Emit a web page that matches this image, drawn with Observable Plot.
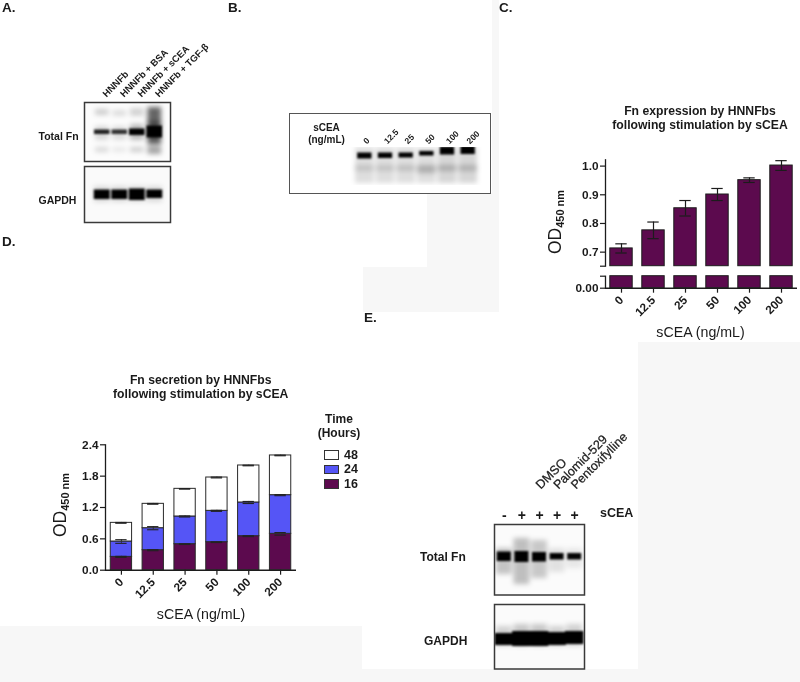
<!DOCTYPE html>
<html><head><meta charset="utf-8">
<style>
html,body{margin:0;padding:0;background:#fff}
#fig{position:relative;width:800px;height:682px;overflow:hidden;background:#fff;font-family:"Liberation Sans",Arial,sans-serif;color:#1a1a1a;filter:blur(.45px)}
.bg{position:absolute;background:#f7f7f7}
.lbl{position:absolute;white-space:nowrap;line-height:1}
.pl{position:absolute}
.pl svg{display:block;background:transparent;max-width:none;overflow:visible;font-family:"Liberation Sans",Arial,sans-serif}
</style>
<script src="https://cdn.jsdelivr.net/npm/d3@7"></script>
<script src="https://cdn.jsdelivr.net/npm/@observablehq/plot@0.6"></script>
</head><body><div id="fig"></div>
<script>
// ---- data ----
const doses = ["0","12.5","25","50","100","200"];
// Panel C
const fnExpression = [0.713,0.776,0.853,0.901,0.951,1.002];
const fnExpressionErr = [0.016,0.029,0.027,0.021,0.008,0.017];
// Panel D (stack increments)
const secretion16 = [0.255,0.383,0.498,0.536,0.651,0.696];
const secretion24 = [0.294,0.421,0.530,0.600,0.645,0.740];
const secretion48 = [0.357,0.466,0.529,0.638,0.708,0.760];
const err16 = [0.010,0.010,0.006,0.006,0.008,0.025];
const err24 = [0.035,0.030,0.010,0.010,0.020,0.010];
const err48 = [0.008,0.008,0.006,0.008,0.006,0.006];
const timeLevels = ["48","24","16"];
const timeColors = ["#ffffff","#5555f6","#5c0a4e"];
// Panel A gel
const laneA = ["HNNFb","HNNFb + BSA","HNNFb + sCEA","HNNFb + TGF-β"];
const fnASmear = [[0,7,13,.18],[1,8,14,.12],[2,6,14,.16],[3,5,22,.6],[0,24,38,.14],[1,24,38,.12],[2,22,38,.26],[3,20,42,.65],[0,45,50,.14],[1,45,50,.08],[2,45,50,.18],[3,44,52,.35]];
const fnACore = [[0,27.5,32,.85],[1,27.5,32,.78],[2,26.5,33,1],[3,23.5,35.5,1]];
const gapdhASmear = [[0,20,36,.12],[1,20,36,.12],[2,20,36,.12],[3,20,36,.12]];
const gapdhACore = [[0,23.5,33,1],[1,23.5,33,1],[2,22.5,34,1],[3,23.5,32,1]];
// Panel B gel
const laneB = ["0","12.5","25","50","100","200"];
const fnBSmear = [[0,0,36,.13],[1,0,36,.13],[2,0,36,.13],[3,0,36,.13],[4,0,36,.16],[5,0,36,.16],[0,18,24,.12],[1,18,24,.12],[2,18,24,.14],[3,18,26,.22],[4,18,24,.2],[5,18,24,.18]];
const fnBCore = [[0,5.5,11.5,1],[1,5.5,11,1],[2,5.5,10.5,1],[3,4,8.5,1],[4,-.5,7.5,1],[5,-1,7,1]];
// Panel E gels
const laneE = [0,1,2,3,4];
const signE = ["-","+","+","+","+"];
const drugsE = ["DMSO","Palomid-529","Pentoxifylline"];
const drugLanes = [2,3,4];
const fnESmear = [[0,24,50,.22],[1,14,60,.24],[2,16,54,.2],[3,24,48,.1],[4,24,44,.08]];
const fnECore = [[0,27.5,37,1],[1,27,38,1],[2,28,37.5,1],[3,29,35.5,1],[4,29,35.5,.98]];
const gapdhESmear = [[0,22,42,.16],[1,20,42,.2],[2,20,42,.2],[3,22,42,.16],[4,20,42,.16]];
const gapdhECore = [[0,29,41,1],[1,27,42,1],[2,27,42,1],[3,28,41,1],[4,27,40,1]];

// ---- helpers ----
const fig = document.getElementById("fig");
function bg(x,y,w,h){const d=document.createElement("div");d.className="bg";d.style.cssText=`left:${x}px;top:${y}px;width:${w}px;height:${h}px`;fig.append(d);}
function label(html,x,y,size,weight="bold",rot=0,anchor="-50%"){const d=document.createElement("div");d.className="lbl";d.innerHTML=html;d.style.cssText=`left:${x}px;top:${y}px;font-size:${size}px;font-weight:${weight};transform:translate(${anchor},-50%) rotate(${rot}deg);`;fig.append(d);return d;}
function place(el,x,y){const d=document.createElement("div");d.className="pl";d.style.left=x+"px";d.style.top=y+"px";d.append(el);fig.append(d);}
const INK="#1c1c1c";
const base={style:{background:"transparent",fontWeight:"bold"}};

[[491.5,0,7,312],[427,193,71,119],[363,267,64,45],[0,626,362,56],[0,669,800,13],[638,342,162,340]].forEach(a=>bg(...a));

function blot(x,y,w,h,o){
  const mt=o.marginTop||0;
  const row=(r)=>({lane:o.lanes[r[0]],from:r[1],to:r[2],ink:r[3]});
  const p=Plot.plot({...base,width:w,height:h+mt,marginLeft:0,marginRight:0,marginBottom:0,marginTop:mt,
    x:{type:"band",domain:o.lanes,range:o.xr,padding:0,round:false,axis:null},
    y:{domain:[0,h],range:[mt,mt+h],axis:null},
    marks:[
      Plot.frame({fill:o.paper||"#fbfbfb",stroke:"none"}),
      Plot.barY(o.smears.map(row),{x:"lane",y1:"from",y2:"to",fill:"#000",fillOpacity:"ink",clip:true,insetLeft:o.si||1,insetRight:o.si||1}),
      Plot.barY(o.cores.map(row),{x:"lane",y1:"from",y2:"to",fill:"#000",fillOpacity:"ink",clip:true,insetLeft:o.ci||1,insetRight:o.ci||1}),
      ...(o.frame===false?[]:[Plot.frame({stroke:"#3a3a3a",strokeWidth:1.5})]),
      ...(o.marks||[])
    ]});
  const groups=p.querySelectorAll('g[aria-label="bar"]');
  if(groups[0]) groups[0].style.filter=`blur(${o.sb||2.6}px)`;
  if(groups[1]) groups[1].style.filter=`blur(${o.cb||.9}px)`;
  place(p,x,y-mt);
}

// ---- Panel A ----
label("A.",2,8,13.5,"bold",0,"0");
blot(84,102,86,59,{lanes:laneA,xr:[9,79],smears:fnASmear,cores:fnACore,marginTop:60,ci:1,si:2,paper:"#fcfcfc",
  marks:[Plot.axisX({anchor:"top",tickRotate:-45,tickSize:0,tickPadding:7,dx:2,fontSize:9.5,label:null})]});
blot(84,166,86,56,{lanes:laneA,xr:[9,79],smears:gapdhASmear,cores:gapdhACore,ci:.8,si:0,paper:"#fafafa"});
label("Total Fn",38.5,136,10.5,"bold",0,"0");
label("GAPDH",38.5,200,10.5,"bold",0,"0");

// ---- Panel B ----
label("B.",228,8,13.5,"bold",0,"0");
{const d=document.createElement("div");d.style.cssText="position:absolute;left:288.5px;top:113px;width:200px;height:79px;border:1.3px solid #555;background:#fff;";fig.append(d);}
label("sCEA",326.5,128,10);
label("(ng/mL)",326.5,140,10);
blot(348,147,134,38,{lanes:laneB,xr:[6,130],smears:fnBSmear,cores:fnBCore,marginTop:24,ci:3.2,si:0,paper:"none",frame:false,
  marks:[Plot.axisX({anchor:"top",tickRotate:-45,tickSize:0,tickPadding:5,fontSize:8.5,label:null})]});

// ---- Panel C ----
label("C.",499,8,13.5,"bold",0,"0");
label("Fn expression by HNNFbs",700,110.7,12.2);
label("following stimulation by sCEA",700,125,12.2);
const cRows=doses.map((dose,i)=>({dose,value:fnExpression[i],lo:fnExpression[i]-fnExpressionErr[i],hi:fnExpression[i]+fnExpressionErr[i]}));
const cBreak=0.651;
const xC={type:"band",domain:doses,paddingInner:.3,paddingOuter:.15,round:false,label:null};
const upper=Plot.plot({...base,width:250,height:119,marginLeft:55,marginRight:3,marginTop:9.3,marginBottom:3.3,
  x:{...xC,axis:null},y:{domain:[cBreak,1.022],label:null,axis:null},
  marks:[
    Plot.barY(cRows,{x:"dose",y1:()=>cBreak,y2:"value",fill:timeColors[2],stroke:INK,strokeWidth:1}),
    Plot.ruleX(cRows,{x:"dose",y1:"lo",y2:"hi",stroke:INK,strokeWidth:1.2}),
    Plot.tickY(cRows,{x:"dose",y:"hi",stroke:INK,strokeWidth:1.2,insetLeft:5.5,insetRight:5.5}),
    Plot.tickY(cRows,{x:"dose",y:"lo",stroke:INK,strokeWidth:1.2,insetLeft:5.5,insetRight:5.5}),
    Plot.axisY({ticks:[.7,.8,.9,1],tickFormat:".1f",fontSize:11.8,tickSize:5,tickPadding:2,label:null,stroke:INK,strokeWidth:1.2}),
    Plot.axisY({ticks:[cBreak],tickFormat:()=>"",tickSize:5,label:null,stroke:INK,strokeWidth:1.2}),
    Plot.frame({anchor:"left",stroke:INK,strokeWidth:1.3})
  ]});
place(upper,550,150);
const lower=Plot.plot({...base,width:250,height:70,marginLeft:55,marginRight:3,marginTop:5.7,marginBottom:52.3,
  x:xC,y:{domain:[0,.04],label:null,axis:null},
  marks:[
    Plot.barY(cRows,{x:"dose",y1:()=>0,y2:()=>.04,fill:timeColors[2],stroke:INK,strokeWidth:1}),
    Plot.axisY({ticks:[0],tickFormat:".2f",fontSize:11.8,tickSize:5,tickPadding:2,label:null,stroke:INK,strokeWidth:1.2}),
    Plot.axisY({ticks:[.04],tickFormat:()=>"",tickSize:5,label:null,stroke:INK,strokeWidth:1.2}),
    Plot.axisX({tickRotate:-45,fontSize:11.8,tickSize:5,tickPadding:5,label:null,stroke:INK,strokeWidth:1.2}),
    Plot.ruleY([0],{stroke:INK,strokeWidth:1.4}),
    Plot.frame({anchor:"left",stroke:INK,strokeWidth:1.3})
  ]});
place(lower,550,270);
label('OD<span style="font-size:11px;font-weight:bold;position:relative;top:3px">450 nm</span>',556,221.5,17.5,"normal",-90);
label("sCEA (ng/mL)",700.5,332.3,14.2,"normal");

// ---- Panel D ----
label("D.",2,242,13.5,"bold",0,"0");
label("Fn secretion by HNNFbs",200.7,380,12.2);
label("following stimulation by sCEA",200.7,394,12.2);
const stacks=[["16",secretion16,err16],["24",secretion24,err24],["48",secretion48,err48]];
const dRows=stacks.flatMap(([time,vals])=>vals.map((value,i)=>({dose:doses[i],time,value})));
const running=doses.map(()=>0);
const dErr=stacks.flatMap(([time,vals,errs])=>vals.map((v,i)=>{running[i]+=v;return {dose:doses[i],time,lo:running[i]-errs[i],hi:running[i]+errs[i]};}));
const secretion=Plot.plot({...base,width:256,height:200,marginLeft:65,marginRight:0,marginTop:4.3,marginBottom:70.3,
  x:{type:"band",domain:doses,paddingInner:.33,paddingOuter:.165,round:false,label:null},
  y:{domain:[0,2.4],label:null,axis:null},
  color:{domain:timeLevels,range:timeColors},
  marks:[
    Plot.barY(dRows,{x:"dose",y:"value",fill:"time",order:["16","24","48"],stroke:"#2a2a2a",strokeWidth:1}),
    Plot.ruleX(dErr,{x:"dose",y1:"lo",y2:"hi",stroke:"#333",strokeWidth:1}),
    Plot.tickY(dErr,{x:"dose",y:"hi",stroke:"#222",strokeWidth:1.1,insetLeft:5,insetRight:5}),
    Plot.tickY(dErr,{x:"dose",y:"lo",stroke:"#222",strokeWidth:1.1,insetLeft:5,insetRight:5}),
    Plot.axisY({ticks:[0,.6,1.2,1.8,2.4],tickFormat:".1f",fontSize:11.8,tickSize:5,tickPadding:2,label:null,stroke:INK,strokeWidth:1.2}),
    Plot.axisX({tickRotate:-45,fontSize:11.8,tickSize:5,tickPadding:5,label:null,stroke:INK,strokeWidth:1.2}),
    Plot.ruleY([0],{stroke:INK,strokeWidth:1.4}),
    Plot.frame({anchor:"left",stroke:INK,strokeWidth:1.3})
  ]});
place(secretion,40,440);
label('OD<span style="font-size:11px;font-weight:bold;position:relative;top:3px">450 nm</span>',61,505,17.5,"normal",-90);
label("sCEA (ng/mL)",201,614,14.2,"normal");
label("Time",339,418.7,12);
label("(Hours)",339,433,12);
timeLevels.forEach((t,i)=>{
  const y=450+i*14.6;
  const s=document.createElement("div");
  s.style.cssText=`position:absolute;left:324px;top:${y}px;width:12.5px;height:7.5px;background:${timeColors[i]};border:1px solid #333;`;
  fig.append(s);
  label(t,344,y+4.5,12.5,"bold",0,"0");
});

// ---- Panel E ----
label("E.",364,318,13.5,"bold",0,"0");
blot(493.5,524,90,70.5,{lanes:laneE,xr:[1,89],smears:fnESmear,cores:fnECore,marginTop:80,ci:1.8,si:1,paper:"#fbfbfb",
  marks:[
    Plot.axisX({anchor:"top",tickFormat:(l)=>signE[l],tickSize:0,tickPadding:5,fontSize:14,label:null}),
    Plot.text(drugsE,{x:(d,i)=>laneE[drugLanes[i]],text:d=>d,frameAnchor:"top",dy:-41,dx:-5,rotate:-45,textAnchor:"start",fontSize:12.5,fontWeight:"normal",fill:"#1a1a1a",stroke:"#1a1a1a",strokeWidth:.25})
  ]});
blot(493.5,604,90,64.5,{lanes:laneE,xr:[1,89],smears:gapdhESmear,cores:gapdhECore,ci:-.5,si:0,paper:"#fbfbfb"});
label("sCEA",600,513,12.5,"bold",0,"0");
label("Total Fn",420,557,12,"bold",0,"0");
label("GAPDH",424,640.5,12,"bold",0,"0");
</script></body></html>
